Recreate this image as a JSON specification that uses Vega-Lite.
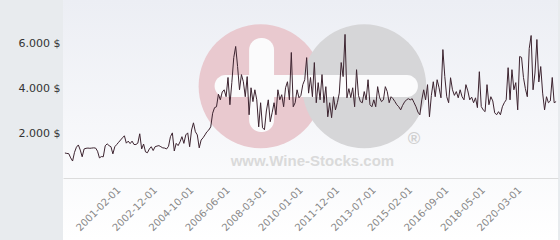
{
  "$schema": "https://vega.github.io/schema/vega-lite/v6.json",
  "width": 495,
  "height": 240,
  "autosize": {"type": "none"},
  "padding": {"left": 63, "right": 2, "top": 0, "bottom": 0},
  "background": "#e8ebee",
  "config": {
    "view": {"stroke": null, "fill": {"gradient": "linear", "x1": 0, "y1": 0, "x2": 0, "y2": 1, "stops": [{"offset": 0, "color": "#eceef4"}, {"offset": 1, "color": "#ffffff"}]}},
    "font": "DejaVu Sans"
  },
  "datasets": {
    "prices": [
    {"date":"1998-10-01","price":1120},{"date":"1998-11-01","price":1100},{"date":"1998-12-01","price":1090},{"date":"1999-01-01","price":900},{"date":"1999-02-01","price":760},{"date":"1999-03-01","price":1150},{"date":"1999-04-01","price":1380},{"date":"1999-05-01","price":1480},{"date":"1999-06-01","price":1250},{"date":"1999-07-01","price":950},{"date":"1999-08-01","price":1300},{"date":"1999-09-01","price":1330},{"date":"1999-10-01","price":1340},{"date":"1999-11-01","price":1330},{"date":"1999-12-01","price":1340},{"date":"2000-01-01","price":1350},{"date":"2000-02-01","price":1340},{"date":"2000-03-01","price":1200},{"date":"2000-04-01","price":900},{"date":"2000-05-01","price":960},{"date":"2000-06-01","price":950},{"date":"2000-07-01","price":1440},{"date":"2000-08-01","price":1530},{"date":"2000-09-01","price":1450},{"date":"2000-10-01","price":1400},{"date":"2000-11-01","price":1080},{"date":"2000-12-01","price":1400},{"date":"2001-01-01","price":1500},
    {"date":"2001-02-01","price":1600},{"date":"2001-03-01","price":1700},{"date":"2001-04-01","price":1800},{"date":"2001-05-01","price":1890},{"date":"2001-07-01","price":1560},{"date":"2001-08-01","price":1650},{"date":"2001-09-01","price":1540},{"date":"2001-10-01","price":1650},{"date":"2001-12-01","price":1500},{"date":"2002-01-01","price":1500},{"date":"2002-02-01","price":1560},{"date":"2002-03-01","price":1980},{"date":"2002-04-01","price":1300},{"date":"2002-06-01","price":1520},{"date":"2002-07-01","price":1170},{"date":"2002-08-01","price":1130},{"date":"2002-09-01","price":1300},{"date":"2002-10-01","price":1400},{"date":"2002-11-01","price":1230},
    {"date":"2002-12-01","price":1400},{"date":"2003-01-01","price":1430},{"date":"2003-02-01","price":1450},{"date":"2003-03-01","price":1400},{"date":"2003-05-01","price":1350},{"date":"2003-06-01","price":1340},{"date":"2003-07-01","price":1300},{"date":"2003-08-01","price":1420},{"date":"2003-10-01","price":1850},{"date":"2003-11-01","price":2020},{"date":"2003-12-01","price":1210},{"date":"2004-01-01","price":1550},{"date":"2004-02-01","price":1450},{"date":"2004-04-01","price":1620},{"date":"2004-05-01","price":1850},{"date":"2004-06-01","price":1550},{"date":"2004-07-01","price":1930},{"date":"2004-08-01","price":2020},{"date":"2004-09-01","price":1400},
    {"date":"2004-10-01","price":2150},{"date":"2004-11-01","price":2470},{"date":"2004-12-01","price":2070},{"date":"2005-01-01","price":1930},{"date":"2005-02-01","price":1350},{"date":"2005-03-01","price":1700},{"date":"2005-04-01","price":1800},{"date":"2005-05-01","price":1930},{"date":"2005-06-01","price":2070},{"date":"2005-07-01","price":2150},{"date":"2005-09-01","price":2290},{"date":"2005-10-01","price":2900},{"date":"2005-11-01","price":3150},{"date":"2005-12-01","price":3190},{"date":"2006-01-01","price":3750},{"date":"2006-02-01","price":3500},{"date":"2006-03-01","price":3850},{"date":"2006-04-01","price":3950},{"date":"2006-05-01","price":3640},
    {"date":"2006-06-01","price":4500},{"date":"2006-07-01","price":3280},{"date":"2006-08-01","price":4270},{"date":"2006-09-01","price":5390},{"date":"2006-10-01","price":5890},{"date":"2006-11-01","price":4990},{"date":"2007-01-01","price":3950},{"date":"2007-02-01","price":4630},{"date":"2007-03-01","price":4310},{"date":"2007-04-01","price":3640},{"date":"2007-05-01","price":4540},{"date":"2007-06-01","price":2830},{"date":"2007-07-01","price":4040},{"date":"2007-09-01","price":3420},{"date":"2007-10-01","price":3950},{"date":"2007-11-01","price":3500},{"date":"2007-12-01","price":2290},{"date":"2008-01-01","price":3370},{"date":"2008-02-01","price":2250},
    {"date":"2008-03-01","price":2160},{"date":"2008-04-01","price":3000},{"date":"2008-05-01","price":3500},{"date":"2008-06-01","price":2520},{"date":"2008-07-01","price":2920},{"date":"2008-09-01","price":3370},{"date":"2008-10-01","price":2830},{"date":"2008-11-01","price":3950},{"date":"2008-12-01","price":3500},{"date":"2009-02-01","price":3730},{"date":"2009-03-01","price":3190},{"date":"2009-04-01","price":4040},{"date":"2009-05-01","price":4310},{"date":"2009-06-01","price":3500},{"date":"2009-08-01","price":5620},{"date":"2009-09-01","price":3190},{"date":"2009-10-01","price":3370},{"date":"2009-11-01","price":3950},{"date":"2009-12-01","price":3590},
    {"date":"2010-01-01","price":3700},{"date":"2010-02-01","price":4180},{"date":"2010-03-01","price":4400},{"date":"2010-04-01","price":5390},{"date":"2010-06-01","price":3800},{"date":"2010-07-01","price":4500},{"date":"2010-08-01","price":3640},{"date":"2010-09-01","price":5170},{"date":"2010-11-01","price":3370},{"date":"2010-12-01","price":4270},{"date":"2011-01-01","price":3500},{"date":"2011-02-01","price":4630},{"date":"2011-04-01","price":3370},{"date":"2011-05-01","price":4090},{"date":"2011-06-01","price":2740},{"date":"2011-07-01","price":3370},{"date":"2011-09-01","price":2700},{"date":"2011-10-01","price":3640},{"date":"2011-11-01","price":3050},
    {"date":"2011-12-01","price":3370},{"date":"2012-01-01","price":3800},{"date":"2012-02-01","price":5170},{"date":"2012-03-01","price":4540},{"date":"2012-04-01","price":6430},{"date":"2012-05-01","price":3590},{"date":"2012-06-01","price":4000},{"date":"2012-07-01","price":3600},{"date":"2012-08-01","price":4040},{"date":"2012-09-01","price":3190},{"date":"2012-10-01","price":4850},{"date":"2012-11-01","price":3700},{"date":"2012-12-01","price":3420},{"date":"2013-01-01","price":3370},{"date":"2013-02-01","price":3870},{"date":"2013-03-01","price":3500},{"date":"2013-04-01","price":4400},{"date":"2013-05-01","price":3280},{"date":"2013-06-01","price":3190},
    {"date":"2013-07-01","price":3500},{"date":"2013-08-01","price":3190},{"date":"2013-09-01","price":4090},{"date":"2013-10-01","price":3600},{"date":"2013-11-01","price":3420},{"date":"2013-12-01","price":3500},{"date":"2014-01-01","price":4090},{"date":"2014-02-01","price":3870},{"date":"2014-03-01","price":3370},{"date":"2014-04-01","price":3640},{"date":"2014-05-01","price":3550},{"date":"2014-06-01","price":3420},{"date":"2014-07-01","price":3280},{"date":"2014-08-01","price":3190},{"date":"2014-09-01","price":3050},{"date":"2014-10-01","price":3250},{"date":"2014-11-01","price":3400},{"date":"2014-12-01","price":3500},{"date":"2015-01-01","price":3550},
    {"date":"2015-02-01","price":3500},{"date":"2015-03-01","price":3550},{"date":"2015-04-01","price":3370},{"date":"2015-05-01","price":3190},{"date":"2015-06-01","price":2950},{"date":"2015-07-01","price":2830},{"date":"2015-08-01","price":3500},{"date":"2015-09-01","price":3950},{"date":"2015-10-01","price":3500},{"date":"2015-11-01","price":4180},{"date":"2015-12-01","price":2740},{"date":"2016-01-01","price":3700},{"date":"2016-02-01","price":4310},{"date":"2016-03-01","price":3640},{"date":"2016-04-01","price":4400},{"date":"2016-05-01","price":4040},{"date":"2016-06-01","price":3590},{"date":"2016-07-01","price":5750},{"date":"2016-08-01","price":4540},
    {"date":"2016-09-01","price":3640},{"date":"2016-10-01","price":3370},{"date":"2016-11-01","price":4490},{"date":"2016-12-01","price":3950},{"date":"2017-01-01","price":3700},{"date":"2017-02-01","price":3870},{"date":"2017-03-01","price":3590},{"date":"2017-04-01","price":3950},{"date":"2017-05-01","price":3640},{"date":"2017-07-01","price":3500},{"date":"2017-08-01","price":4180},{"date":"2017-09-01","price":3900},{"date":"2017-10-01","price":3500},{"date":"2017-11-01","price":3620},{"date":"2017-12-01","price":3370},{"date":"2018-01-01","price":3590},{"date":"2018-02-01","price":3150},{"date":"2018-03-01","price":4760},{"date":"2018-04-01","price":3200},
    {"date":"2018-05-01","price":3050},{"date":"2018-06-01","price":2970},{"date":"2018-07-01","price":4180},{"date":"2018-08-01","price":3280},{"date":"2018-09-01","price":3640},{"date":"2018-11-01","price":3450},{"date":"2018-12-01","price":2920},{"date":"2019-01-01","price":2830},{"date":"2019-02-01","price":2970},{"date":"2019-04-01","price":2830},{"date":"2019-05-01","price":3190},{"date":"2019-06-01","price":3370},{"date":"2019-07-01","price":3500},{"date":"2019-08-01","price":4940},{"date":"2019-10-01","price":3500},{"date":"2019-11-01","price":4850},{"date":"2019-12-01","price":3950},{"date":"2020-01-01","price":4270},{"date":"2020-02-01","price":3050},
    {"date":"2020-03-01","price":5440},{"date":"2020-04-01","price":5400},{"date":"2020-05-01","price":4500},{"date":"2020-06-01","price":4000},{"date":"2020-07-01","price":3640},{"date":"2020-08-01","price":5800},{"date":"2020-09-01","price":6380},{"date":"2020-10-01","price":3950},{"date":"2020-11-01","price":4700},{"date":"2020-12-01","price":6200},{"date":"2021-01-01","price":4300},{"date":"2021-02-01","price":4990},{"date":"2021-03-01","price":3800},{"date":"2021-04-01","price":3050},{"date":"2021-05-01","price":3640},{"date":"2021-06-01","price":3370},{"date":"2021-07-01","price":3450},{"date":"2021-08-01","price":4500},{"date":"2021-09-01","price":3370},{"date":"2021-10-01","price":3420}
    ],
    "one": [{"note": "watermark"}]
  },
  "layer": [
    {
      "data": {"name": "one"},
      "mark": {"type": "point", "shape": "circle", "filled": true, "fill": "#e9c9cf", "opacity": 1, "size": 15376},
      "encoding": {"x": {"datum": "2008-01-01", "type": "ordinal"}, "y": {"datum": 4110, "type": "quantitative"}}
    },
    {
      "data": {"name": "one"},
      "mark": {"type": "point", "shape": "circle", "filled": true, "fill": "#d6d6d8", "opacity": 1, "size": 15376},
      "encoding": {"x": {"datum": "2013-02-01", "type": "ordinal"}, "y": {"datum": 4110, "type": "quantitative"}}
    },
    {
      "data": {"name": "one"},
      "mark": {"type": "rect", "fill": "#fbfbfc", "cornerRadius": 11},
      "encoding": {"x": {"datum": "2005-11-01", "type": "ordinal"}, "x2": {"datum": "2015-06-01"}, "y": {"datum": 4612, "type": "quantitative"}, "y2": {"datum": 3627}}
    },
    {
      "data": {"name": "one"},
      "mark": {"type": "rect", "fill": "#fbfbfc", "cornerRadius": 12},
      "encoding": {"x": {"datum": "2007-06-01", "type": "ordinal"}, "x2": {"datum": "2008-09-01"}, "y": {"datum": 6269, "type": "quantitative"}, "y2": {"datum": 2060}}
    },
    {
      "data": {"name": "one"},
      "mark": {"type": "text", "text": "www.Wine-Stocks.com", "font": "Liberation Sans", "fontWeight": "bold", "fontSize": 15, "color": "#dadada", "align": "center", "baseline": "middle"},
      "encoding": {"x": {"datum": "2010-08-01", "type": "ordinal"}, "y": {"datum": 764, "type": "quantitative"}}
    },
    {
      "data": {"name": "one"},
      "mark": {"type": "text", "text": "®", "font": "Liberation Sans", "fontWeight": "bold", "fontSize": 17, "color": "#d0d0d0", "align": "center", "baseline": "middle"},
      "encoding": {"x": {"datum": "2015-04-01", "type": "ordinal"}, "y": {"datum": 1740, "type": "quantitative"}}
    },
    {
      "data": {"name": "prices"},
      "mark": {"type": "line", "color": "#3d2430", "strokeWidth": 1},
      "encoding": {
        "x": {
          "field": "date", "type": "ordinal",
          "scale": {"type": "point", "padding": 2.6},
          "axis": {
            "title": null,
            "values": ["2001-02-01","2002-12-01","2004-10-01","2006-06-01","2008-03-01","2010-01-01","2011-12-01","2013-07-01","2015-02-01","2016-09-01","2018-05-01","2020-03-01"],
            "offset": -62, "ticks": false, "domainColor": "#dcdcdc", "grid": false,
            "labelAngle": -45, "labelAlign": "right", "labelBaseline": "middle", "labelFontSize": 10, "labelColor": "#888888", "labelPadding": 10
          }
        },
        "y": {
          "field": "price", "type": "quantitative",
          "scale": {"domain": [-2776, 7970], "nice": false, "zero": false},
          "axis": {
            "title": null, "values": [2000, 4000, 6000], "zindex": 1,
            "labelExpr": "replace(format(datum.value, ','), ',', '.') + ' $'",
            "domain": false, "ticks": false, "gridColor": "#dddddd", "gridOpacity": 0.8, "labelFontSize": 11, "labelColor": "#333333", "labelPadding": 3
          }
        }
      }
    }
  ]
}
